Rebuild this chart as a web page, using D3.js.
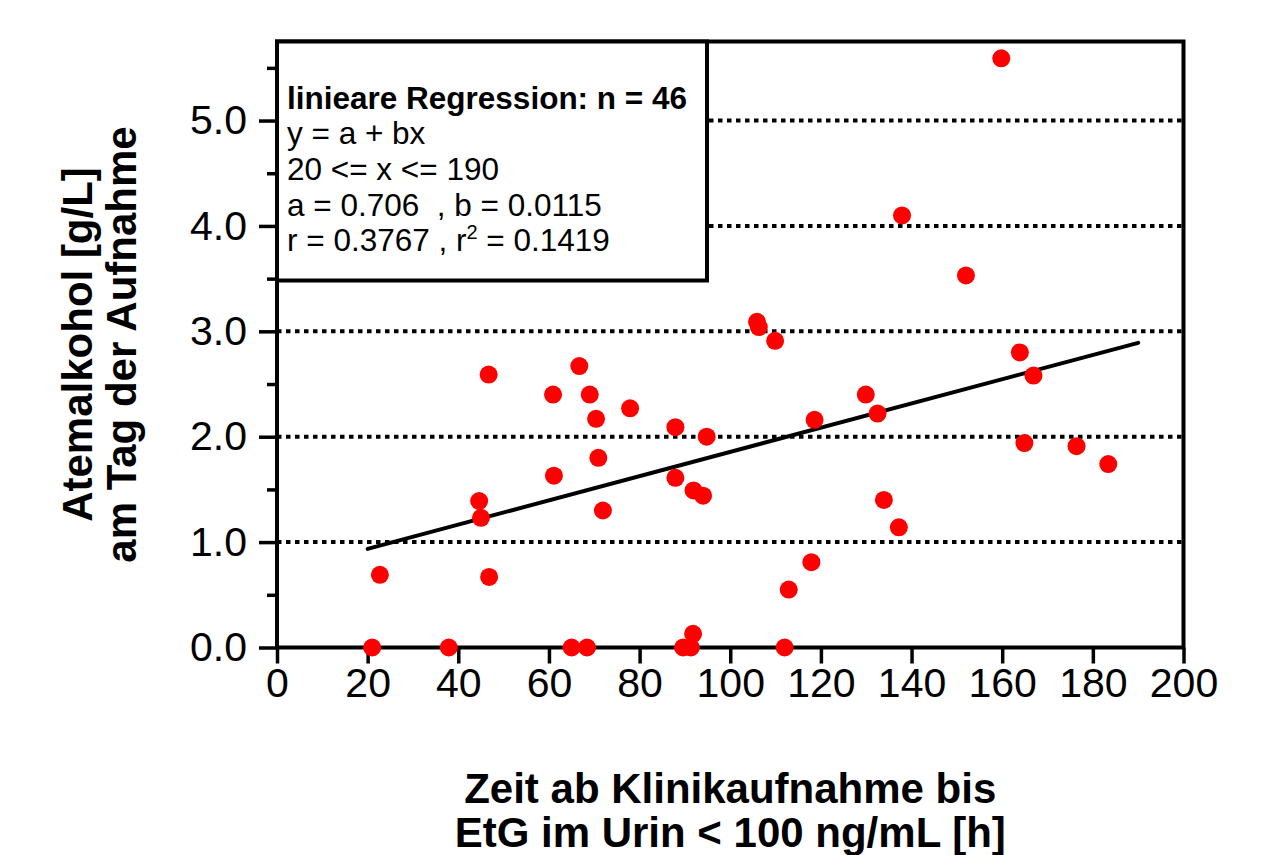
<!DOCTYPE html>
<html>
<head>
<meta charset="utf-8">
<script src="https://cdn.jsdelivr.net/npm/d3@7"></script>
<style>
  body { margin: 0; background: #fff; }
  svg { display: block; font-family: "Liberation Sans", Arial, Helvetica, sans-serif; }
  text { white-space: pre; }
</style>
</head>
<body>
<svg id="chart" width="1270" height="855"></svg>
<script>
// measured values (hours, g/L)
var hours = [21.0, 22.7, 37.9, 44.6, 45.0, 46.7, 46.8, 60.9, 61.1, 65.0, 66.7, 68.4, 69.0, 70.4, 70.9,
  71.9, 77.9, 87.9, 87.9, 89.6, 91.3, 91.8, 91.9, 94.0, 94.8, 105.9, 106.3, 109.9, 112.0, 112.9,
  117.9, 118.6, 129.9, 132.5, 133.9, 137.2, 137.9, 152.0, 159.8, 163.9, 164.9, 166.9, 176.4, 183.4];
var breath = [0.00, 0.69, 0.00, 1.39, 1.23, 2.59, 0.67, 2.40, 1.63, 0.00, 2.67, 0.00, 2.40, 2.17, 1.80,
  1.30, 2.27, 2.09, 1.61, 0.00, 0.00, 0.13, 1.49, 1.44, 2.00, 3.09, 3.04, 2.91, 0.00, 0.55,
  0.81, 2.16, 2.40, 2.22, 1.40, 1.14, 4.10, 3.53, 5.59, 2.80, 1.94, 2.58, 1.91, 1.74];

var xTicks = [0, 20, 40, 60, 80, 100, 120, 140, 160, 180, 200];
var yTicks = [0, 1, 2, 3, 4, 5];
var yMinor = [0.5, 1.5, 2.5, 3.5, 4.5, 5.5];
var gridValues = [1, 2, 3, 4, 5];

// regression y = a + bx on 20..190
var regA = 0.706;
var regB = 0.0115;
var regRange = [20, 190];

var legendLines = [
  "y = a + bx",
  "20 <= x <= 190",
  "a = 0.706  , b = 0.0115"
];

var xTitle = ["Zeit ab Klinikaufnahme bis", "EtG im Urin < 100 ng/mL [h]"];
var yTitle = ["Atemalkohol [g/L]", "am Tag der Aufnahme"];

function draw() {
  const svg = d3.select("#chart");
  const left = 277, right = 1183.5, top = 41.5, bottom = 647.5;

  const x = d3.scaleLinear().domain([0, 200]).range([left, right]);
  const y = d3.scaleLinear().domain([0, 5.75]).range([bottom, top]);

  // dotted gridlines
  svg.append("g")
    .selectAll("line")
    .data(gridValues)
    .enter()
    .append("line")
    .attr("x1", left)
    .attr("x2", right)
    .attr("y1", d => y(d))
    .attr("y2", d => y(d))
    .attr("stroke", "#000")
    .attr("stroke-width", 4)
    .attr("stroke-dasharray", "4.5,4.5");

  // axes
  const xAxis = svg.append("g")
    .attr("transform", `translate(0,${bottom})`)
    .call(d3.axisBottom(x).tickValues(xTicks).tickSize(16).tickPadding(4).tickFormat(d3.format("d")));

  const yAxis = svg.append("g")
    .attr("transform", `translate(${left},0)`)
    .call(d3.axisLeft(y).tickValues(yTicks).tickSize(18).tickPadding(12).tickFormat(d3.format(".1f")));

  const yAxisMinor = svg.append("g")
    .attr("transform", `translate(${left},0)`)
    .call(d3.axisLeft(y).tickValues(yMinor).tickSize(10).tickFormat(""));

  [xAxis, yAxis, yAxisMinor].forEach(g => {
    g.select(".domain").remove();
    g.selectAll(".tick line").attr("stroke", "#000").attr("stroke-width", 3.5);
    g.selectAll(".tick text")
      .attr("font-family", "'Liberation Sans', Arial, sans-serif")
      .attr("font-size", 41)
      .attr("fill", "#000");
  });
  xAxis.selectAll(".tick text").attr("dy", "0.72em");

  // frame
  svg.append("rect")
    .attr("x", left)
    .attr("y", top)
    .attr("width", right - left)
    .attr("height", bottom - top)
    .attr("fill", "none")
    .attr("stroke", "#000")
    .attr("stroke-width", 4);

  // legend box
  const legend = svg.append("g");
  legend.append("rect")
    .attr("x", left)
    .attr("y", top)
    .attr("width", 430)
    .attr("height", 239)
    .attr("fill", "#fff")
    .attr("stroke", "#000")
    .attr("stroke-width", 4);

  legend.append("text")
    .attr("x", 287)
    .attr("y", 108.5)
    .attr("font-size", 31.5)
    .attr("font-weight", "bold")
    .text("linieare Regression: n = 46");

  legend.selectAll("text.line")
    .data(legendLines)
    .enter()
    .append("text")
    .attr("class", "line")
    .attr("x", 287)
    .attr("y", (d, i) => 144.2 + i * 35.7)
    .attr("font-size", 31.5)
    .text(d => d);

  const rLine = legend.append("text")
    .attr("x", 287)
    .attr("y", 144.2 + 3 * 35.7)
    .attr("font-size", 31.5);
  rLine.append("tspan").text("r = 0.3767 , r");
  rLine.append("tspan").attr("font-size", 20).attr("dy", -12).text("2");
  rLine.append("tspan").attr("dy", 12).text(" = 0.1419");

  // regression line
  svg.append("line")
    .attr("x1", x(regRange[0]))
    .attr("y1", y(regA + regB * regRange[0]))
    .attr("x2", x(regRange[1]))
    .attr("y2", y(regA + regB * regRange[1]))
    .attr("stroke", "#000")
    .attr("stroke-width", 4)
    .attr("stroke-linecap", "round");

  // points
  svg.append("g")
    .selectAll("circle")
    .data(hours)
    .enter()
    .append("circle")
    .attr("cx", d => x(d))
    .attr("cy", (d, i) => y(breath[i]))
    .attr("r", 9)
    .attr("fill", "#ff0000");

  // axis titles
  const xt = svg.append("text")
    .attr("text-anchor", "middle")
    .attr("font-size", 42)
    .attr("font-weight", "bold");
  xTitle.forEach((t, i) => {
    xt.append("tspan").attr("x", (left + right) / 2).attr("y", 803 + i * 44).text(t);
  });

  const yt = svg.append("text")
    .attr("text-anchor", "middle")
    .attr("font-size", 42)
    .attr("font-weight", "bold")
    .attr("transform", `translate(0,${(top + bottom) / 2}) rotate(-90)`);
  yTitle.forEach((t, i) => {
    yt.append("tspan").attr("x", 0).attr("y", 92 + i * 44).text(t);
  });
}

draw();
</script>
</body>
</html>
